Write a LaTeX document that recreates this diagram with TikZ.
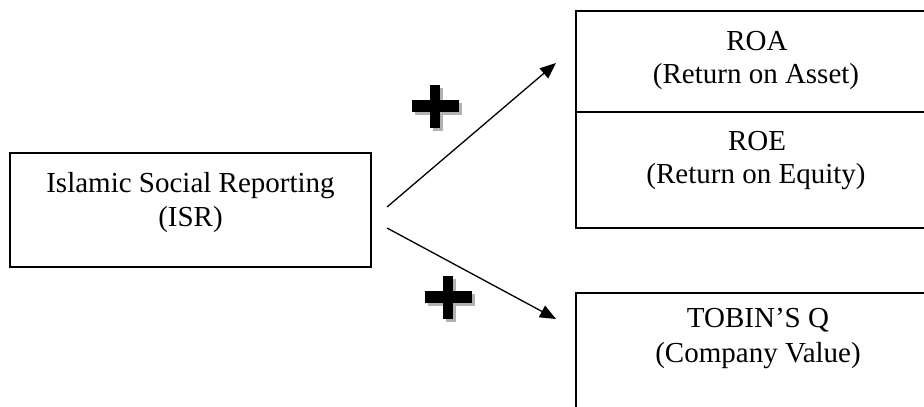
\documentclass[tikz,border=0pt]{standalone}
\usepackage{fontspec}
\setmainfont{Liberation Serif}
\usetikzlibrary{arrows.meta}
\begin{document}
\begin{tikzpicture}[x=1pt,y=-1pt,
  box/.style={draw=black,line width=1.8pt,inner sep=0pt},
  lbl/.style={anchor=base,inner sep=0pt,font=\fontsize{29}{34}\selectfont},
  conn/.style={line width=1.3pt,-{Triangle[length=16pt,width=13pt]}},
  plusbar/.style={fill=black},
  plusshadow/.style={fill=black!30}]
\useasboundingbox (0,0) rectangle (924,407);
\clip (0,0) rectangle (924,407);
% boxes
\draw[box] (10,153) rectangle (371,267);
\node[inner sep=0pt,minimum width=361pt,minimum height=114pt] (isr) at (190.5,210) {};
\draw[box] (576,11) rectangle (950,228);
\draw[box] (576,112) -- (950,112);
\node[inner sep=0pt,minimum width=348pt,minimum height=217pt] (prof) at (750,119.5) {};
\draw[box] (576,293) rectangle (950,440);
\node[inner sep=0pt,minimum width=348pt,minimum height=114pt] (tq) at (750,350) {};
% texts
\node[lbl] (t1) at (190.5,192) {Islamic Social Reporting};
\node[lbl] (t2) at (190.5,226) {(ISR)};
\node[lbl] (t3) at (757,50) {ROA};
\node[lbl] (t4) at (756,83) {(Return on Asset)};
\node[lbl] (t5) at (757,150) {ROE};
\node[lbl] (t6) at (756,183) {(Return on Equity)};
\node[lbl] (t7) at (758,327) {TOBIN’S Q};
\node[lbl] (t8) at (758,362) {(Company Value)};
% connectors
\coordinate (s1) at (387,207);
\coordinate (e1) at (556,63);
\coordinate (s2) at (387,228);
\coordinate (e2) at (556,319);
\draw[conn] (s1) -- (e1);
\draw[conn] (s2) -- (e2);
% plus signs
\foreach \cx/\cy in {435/106, 448/297}{
  \fill[plusshadow] (\cx-23.5+3,\cy-6+3) rectangle (\cx+23.5+3,\cy+6+3);
  \fill[plusshadow] (\cx-5+3,\cy-21.5+3) rectangle (\cx+5+3,\cy+21.5+3);
  \fill[plusbar] (\cx-23.5,\cy-6) rectangle (\cx+23.5,\cy+6);
  \fill[plusbar] (\cx-5,\cy-21.5) rectangle (\cx+5,\cy+21.5);
}
\end{tikzpicture}
\end{document}
